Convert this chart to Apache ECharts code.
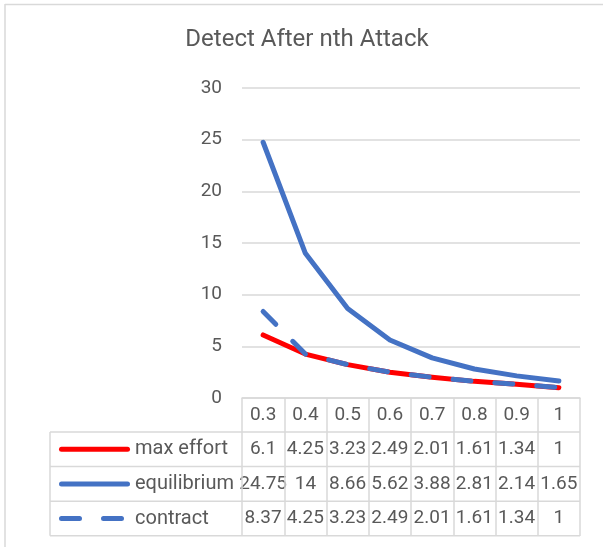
<!DOCTYPE html>
<html>
<head>
<meta charset="utf-8">
<script src="https://cdn.jsdelivr.net/npm/echarts@6/dist/echarts.min.js"></script>
<style>
html, body { margin: 0; padding: 0; background: #fff; }
#chart { width: 603px; height: 547px; }
</style>
</head>
<body>
<div id="chart"></div>
<script>
// data
var categories = ['0.3', '0.4', '0.5', '0.6', '0.7', '0.8', '0.9', '1'];
var maxEffort = [6.1, 4.25, 3.23, 2.49, 2.01, 1.61, 1.34, 1];
var equilibrium = [24.75, 14, 8.66, 5.62, 3.88, 2.81, 2.14, 1.65];
var contract = [8.37, 4.25, 3.23, 2.49, 2.01, 1.61, 1.34, 1];
var seriesNames = ['max effort', 'equilibrium', 'contract'];
var titleText = 'Detect After nth Attack';

var font = 'Roboto';
var textColor = '#595959';
var gridColor = '#d9d9d9';
var red = '#ff0000';
var blue = '#4472c4';
var dash = [18, 24];

var myChart = echarts.init(document.getElementById('chart'));

var option = {
    animation: false,
    grid: { left: 242, right: 23, top: 88, bottom: 149 },
    xAxis: {
        type: 'category',
        data: categories,
        boundaryGap: true,
        axisLine: { lineStyle: { color: gridColor, width: 1.5 } },
        axisTick: { show: true, length: 138, lineStyle: { color: gridColor, width: 1.5 } },
        axisLabel: { color: textColor, fontSize: 19, fontFamily: font, margin: 17, verticalAlign: 'middle' }
    },
    yAxis: {
        type: 'value',
        min: 0,
        max: 30,
        interval: 5,
        axisLine: { show: false },
        axisTick: { show: false },
        splitLine: { lineStyle: { color: gridColor, width: 1.5 } },
        axisLabel: { color: textColor, fontSize: 19, fontFamily: font, margin: 20 }
    },
    series: [
        {
            name: seriesNames[0], type: 'line', data: maxEffort, symbol: 'none', z: 2,
            lineStyle: { color: red, width: 5, cap: 'round', join: 'round' }
        },
        {
            name: seriesNames[1], type: 'line', data: equilibrium, symbol: 'none', z: 3,
            lineStyle: { color: blue, width: 5, cap: 'round', join: 'round' }
        },
        {
            name: seriesNames[2], type: 'line', data: contract, symbol: 'none', z: 4,
            lineStyle: { color: blue, width: 5, cap: 'round', join: 'round', type: dash }
        }
    ]
};
myChart.setOption(option);

// data table under the plot, placed from the axis pixels
var xs = categories.map(function (c) { return myChart.convertToPixel({ xAxisIndex: 0 }, c); });
var band = xs[1] - xs[0];
var tableRight = xs[xs.length - 1] + band / 2;
var tableLeft = 50;
var y0 = myChart.convertToPixel({ yAxisIndex: 0 }, 0);
var headerH = 34;
var rowH = 34.6;
var rowValues = [maxEffort, equilibrium, contract];
var rowColors = [red, blue, blue];

var g = [];
function hline(x1, x2, y) {
    g.push({ type: 'line', shape: { x1: x1, y1: y, x2: x2, y2: y }, style: { stroke: gridColor, lineWidth: 1.5 }, silent: true });
}
function vline(x, y1, y2) {
    g.push({ type: 'line', shape: { x1: x, y1: y1, x2: x, y2: y2 }, style: { stroke: gridColor, lineWidth: 1.5 }, silent: true });
}
function txt(s, x, y, size, align) {
    g.push({
        type: 'text', x: x, y: y, silent: true,
        style: { text: s, fill: textColor, fontSize: size, fontFamily: font, textAlign: align, textVerticalAlign: 'middle', align: align, verticalAlign: 'middle' }
    });
}

// chart frame
vline(5, 4, 547);
hline(5, 603, 4.5);

txt(titleText, 307, 40, 24, 'center');

for (var r = 0; r <= 3; r++) {
    hline(tableLeft, tableRight, y0 + headerH + r * rowH);
}
vline(tableLeft, y0 + headerH, y0 + headerH + 3 * rowH);

for (var i = 0; i < 3; i++) {
    var cy = y0 + headerH + (i + 0.5) * rowH;
    g.push({
        type: 'line', silent: true,
        shape: { x1: 61.5, y1: cy, x2: 127.5, y2: cy },
        style: { stroke: rowColors[i], lineWidth: 5, lineCap: 'round', lineDash: i === 2 ? dash : null }
    });
    txt(seriesNames[i], 135, cy, 20, 'left');
    for (var j = 0; j < categories.length; j++) {
        txt(String(rowValues[i][j]), xs[j], cy, 19, 'center');
    }
}

myChart.setOption({ graphic: g });
</script>
</body>
</html>
